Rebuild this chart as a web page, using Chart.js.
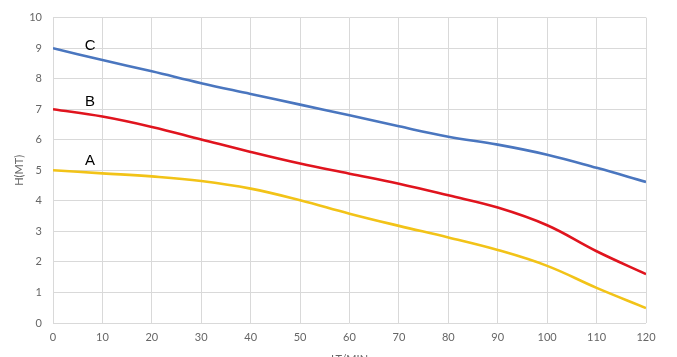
<!DOCTYPE html>
<html>
<head>
<meta charset="utf-8">
<script src="https://cdn.jsdelivr.net/npm/chart.js@4"></script>
<style>
html,body{margin:0;padding:0;background:#fff;}
#wrap{width:677px;height:357px;position:relative;}
</style>
</head>
<body>
<div id="wrap"><canvas id="c" width="677" height="357"></canvas></div>
<script>
const flow = [0,10,20,30,40,50,60,70,80,90,100,110,120];
const headA = [5.0,4.9,4.8,4.65,4.4,4.02,3.58,3.18,2.8,2.39,1.87,1.15,0.49];
const headB = [7.0,6.76,6.42,6.01,5.6,5.22,4.89,4.56,4.18,3.78,3.2,2.35,1.6];
const headC = [9.0,8.61,8.24,7.85,7.5,7.15,6.8,6.44,6.1,5.84,5.51,5.08,4.62];
const seriesNames = ['A','B','C'];
const seriesColors = ['#F2C318','#E0141E','#4A76BF'];
const labelX = 7.5;
const labelY = [5.3, 7.25, 9.07];
const xTitle = 'LT/MIN';
const yTitle = 'H(MT)';

const seriesData = [headA, headB, headC];
const datasets = seriesData.map((arr, i) => ({
  label: seriesNames[i],
  data: flow.map((x, j) => ({x: x, y: arr[j]})),
  borderColor: seriesColors[i],
  backgroundColor: seriesColors[i],
  borderWidth: 2.6,
  pointRadius: 0,
  tension: 0.4,
  fill: false
}));

const curveLabels = {
  id: 'curveLabels',
  afterDatasetsDraw(chart) {
    const {ctx, scales} = chart;
    ctx.save();
    ctx.fillStyle = '#000';
    ctx.font = '15px "Liberation Sans", Arial, sans-serif';
    ctx.textAlign = 'center';
    ctx.textBaseline = 'middle';
    seriesNames.forEach((n, i) => {
      ctx.fillText(n, scales.x.getPixelForValue(labelX), scales.y.getPixelForValue(labelY[i]));
    });
    ctx.restore();
  }
};

const tickFont = {family: 'Lato, "Open Sans", sans-serif', size: 11};
new Chart(document.getElementById('c'), {
  type: 'line',
  data: {datasets},
  options: {
    responsive: false,
    animation: false,
    layout: {padding: {left: 0, right: 31, top: 17, bottom: 0}},
    plugins: {legend: {display: false}, tooltip: {enabled: false}},
    scales: {
      x: {
        type: 'linear', min: 0, max: 120,
        ticks: {stepSize: 10, color: '#666', font: tickFont, padding: 8, maxRotation: 0},
        grid: {color: '#d9d9d9', lineWidth: 1, drawTicks: false},
        border: {display: false},
        title: {display: true, text: xTitle, color: '#666', font: tickFont, padding: {top: 0, bottom: -9}},
        afterFit(scale) { scale.height = 34; }
      },
      y: {
        min: 0, max: 10,
        ticks: {stepSize: 1, color: '#666', font: tickFont, padding: 11},
        grid: {color: '#d9d9d9', lineWidth: 1, drawTicks: false},
        border: {display: false},
        title: {display: true, text: yTitle, color: '#666', font: tickFont, padding: {top: 13, bottom: 0}},
        afterFit(scale) { scale.width = 53; }
      }
    }
  },
  plugins: [curveLabels]
});
</script>
</body>
</html>
